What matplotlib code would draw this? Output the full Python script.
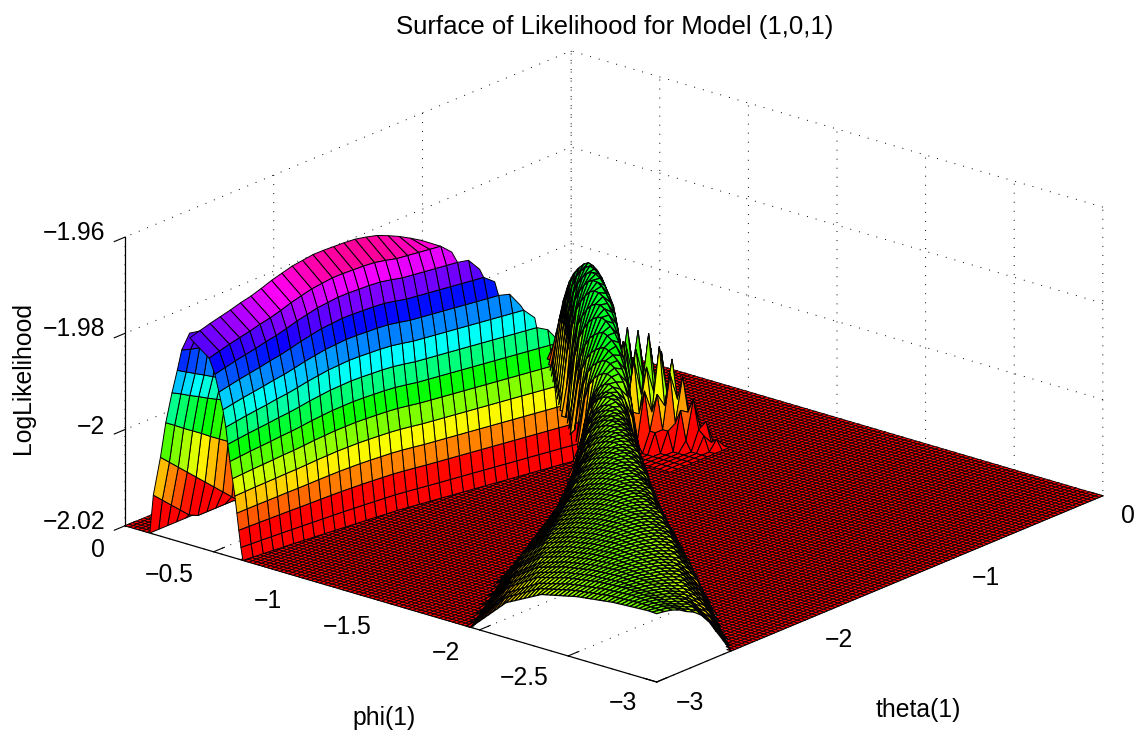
import numpy as np
import matplotlib
matplotlib.use("Agg")
import matplotlib.pyplot as plt
from mpl_toolkits.mplot3d.art3d import Poly3DCollection

plt.rcParams['font.family'] = ['Liberation Sans', 'DejaVu Sans']

# all heights are thousandths above the floor of the plot (-2.02)
z_floor = -2.02

phi_ticks = [0, -0.5, -1, -1.5, -2, -2.5, -3]
phi_labels = ['0', '\u22120.5', '\u22121', '\u22121.5', '\u22122', '\u22122.5', '\u22123']
theta_ticks = [-3, -2, -1, 0]
theta_labels = ['\u22123', '\u22122', '\u22121', '0']
z_ticks = [-2.02, -2, -1.98, -1.96]
z_labels = ['\u22122.02', '\u22122', '\u22121.98', '\u22121.96']

# big hump, near face: theta rows, foot of the slope, top of each row
hump_theta = [-3.0, -2.94, -2.88, -2.82, -2.76, -2.7, -2.64, -2.58, -2.52, -2.46, -2.4, -2.34, -2.28, -2.22, -2.16, -2.1, -2.04,
              -1.98, -1.92, -1.86, -1.8, -1.74, -1.68, -1.62, -1.56, -1.5, -1.44, -1.38, -1.32, -1.26, -1.2, -1.14, -1.08, -1.02]
hump_foot = [-.665, -.672, -.679, -.686, -.693, -.70, -.708, -.716, -.724, -.732, -.74, -.748, -.756, -.764, -.772, -.78, -.792,
             -.804, -.816, -.828, -.84, -.852, -.864, -.876, -.888, -.90, -.912, -.924, -.936, -.948, -.96, -.973, -.987, -1.0]
hump_crest = [43, 43.8, 44.6, 45.3, 46, 46.8, 47.5, 48.4, 49.4, 50.2, 51, 51.5, 52, 52.2, 52.3, 52.4, 52.5,
              52.3, 52, 51.3, 50.5, 49.5, 48.4, 46.5, 44.5, 42, 39, 36, 33, 30, 27, 24, 21, 18]
hump_bands = [43, 43.8, 44.6, 45.3, 46, 46.8, 47.5, 48.4, 49.4, 50.2, 51, 51.5, 52, 52.2, 52.3, 52.4, 52.5,
              52.3, 52, 52, 52, 52, 52, 52, 52, 52, 52, 52, 52, 52, 52, 52, 52, 52]
band_share = [0, .06, .14, .22, .30, .38, .46, .54, .62, .70, .78, .86, .93, 1]
band_lean = [0, .011, .023, .034, .045, .059, .073, .085, .096, .113, .135, .158, .19, .30]

# far side of the hump, seen from under it through the open end
far_phi = [-.14, -.16, -.20, -.23, -.265, -.295, -.32, -.365]
far_theta = [-3.0, -2.94, -2.88, -2.82, -2.76, -2.7, -2.64, -2.58, -2.52, -2.46, -2.4]
far_z = [[0, 8.1, 16.4, 23.9, 30.5, 35.5, 40, 44],
         [0, 6.3, 14.6, 22.6, 29.5, 34.4, 39.4, 43.6],
         [0, 4.5, 12.8, 21.2, 28.4, 33.3, 38.9, 43.2],
         [0, 2.7, 11, 19.9, 27.4, 32.2, 38.3, 42.8],
         [0, .9, 9.2, 18.6, 26.3, 31.1, 37.8, 42.4],
         [0, 0, 7.4, 17.2, 25.3, 30, 37.2, 42],
         [0, 0, 5.6, 15.9, 24.3, 28.9, 36.6, 41.6],
         [0, 0, 3.8, 14.6, 23.2, 27.8, 36, 41.2],
         [0, 0, 2, 13.2, 22.2, 26.7, 35.5, 40.8],
         [0, 0, .2, 11.9, 21.2, 25.6, 35, 40.4],
         [0, 0, 0, 10.6, 20.1, 24.5, 34.4, 40]]

# small spiky bump behind the ridge
bump_theta = [-.98, -.93, -.88, -.83, -.78, -.73, -.68, -.63, -.58]
bump_phi = [-.90, -.93, -.96, -.99, -1.02, -1.05, -1.08, -1.11, -1.14, -1.17, -1.20, -1.23, -1.26, -1.29, -1.32, -1.35, -1.38]
bump_z = [[14, 8, 10, 4, 3, 0, 0, 0, 0, 0, 0, 0, 0, 0, 0, 0, 0],
          [10, 18, 9, 14, 6, 7, 2, 0, 0, 0, 0, 0, 0, 0, 0, 0, 0],
          [22, 12, 20, 10, 15, 7, 8, 2, 0, 0, 0, 0, 0, 0, 0, 0, 0],
          [12, 22, 12, 21, 10, 18, 7, 12, 4, 4, 0, 0, 0, 0, 0, 0, 0],
          [20, 12, 20, 12, 19, 10, 16, 7, 11, 4, 4, 0, 0, 0, 0, 0, 0],
          [12, 22, 12, 22, 12, 22, 10, 20, 8, 15, 5, 8, 2, 0, 0, 0, 0],
          [18, 10, 18, 10, 18, 10, 18, 10, 17, 9, 14, 7, 10, 4, 3, 0, 0],
          [5, 9, 5, 9, 5, 9, 5, 9, 4, 8, 4, 7, 3, 5, 1, 2, 0],
          [0, 0, 0, 0, 0, 0, 0, 0, 0, 0, 0, 0, 0, 0, 0, 0, 0]]

# narrow ridge along phi = theta: for each theta row its two feet (in hundredths of phi) and its top
ridge_theta = [-3.0, -2.95, -2.9, -2.85, -2.8, -2.75, -2.7, -2.65, -2.6, -2.55, -2.5, -2.45, -2.4, -2.35, -2.3, -2.25, -2.2, -2.15, -2.1, -2.05,
               -2.0, -1.95, -1.9, -1.85, -1.8, -1.75, -1.7, -1.65, -1.6, -1.55, -1.5, -1.45, -1.4, -1.35, -1.3, -1.25, -1.2, -1.15, -1.1, -1.05,
               -1.0, -.95, -.9, -.85, -.8, -.75, -.7, -.65, -.6, -.55, -.5, -.45, -.4, -.35, -.3, -.25, -.2, -.15, -.1, -.05, 0.0]
ridge_hi = [195, 192, 190, 187, 185, 182, 180, 177, 175, 172, 169, 167, 165, 163, 161, 159, 157, 155, 153, 151,
            149, 147, 145, 142, 140, 137, 135, 132, 130, 127, 123, 120, 117, 113, 110, 106, 103, 100, 96, 93,
            90, 83, 77, 71, 66, 60, 55, 49, 44, 39, 34, 29, 24, 19, 15, 10, 6, 4, 2, 1, 0]
ridge_lo = [395, 381, 367, 353, 340, 332, 325, 317, 310, 305, 300, 294, 288, 282, 276, 271, 265, 259, 253, 246,
            240, 233, 227, 220, 213, 207, 201, 194, 188, 183, 177, 171, 166, 160, 154, 149, 143, 137, 131, 126,
            120, 116, 113, 109, 104, 99, 93, 88, 83, 78, 72, 67, 62, 57, 51, 45, 39, 32, 26, 20, 15]
ridge_top = [14.3, 14.3, 14.3, 14.3, 14.2, 14.2, 14.2, 14.2, 14.2, 14.2, 14.2, 14.2, 14.2, 14.2, 14.2, 14.2, 14.2, 14.2, 14.2, 14.2,
             14.2, 14.2, 14.2, 14.2, 14.2, 14.2, 14.2, 14.2, 14.2, 14.2, 14.2, 14.2, 14.2, 14.2, 14.2, 14, 14, 14, 14.5, 14.5,
             15, 16, 17.5, 19, 21, 23, 24.5, 26, 27, 27.5, 27.5, 27, 25.5, 23, 20, 16, 12, 8, 5, 2.5, 1]
# height across a ridge row, from the foot to the middle
ridge_across = [0, .51, .78, .90, .97, 1]
across_at = [0, .2, .4, .6, .8, 1]


def draw_mesh(ax, x, y, z, order, top=50.0, shift=5.0, lw=0.7, hue_max=0.999):
    # x, y, z are 2d, z in thousandths above the floor, nan means no cell
    quads, heights = [], []
    for r in range(z.shape[0] - 1):
        for c in range(z.shape[1] - 1):
            zz = [z[r, c], z[r, c + 1], z[r + 1, c + 1], z[r + 1, c]]
            if np.isnan(zz).any():
                continue
            xx = [x[r, c], x[r, c + 1], x[r + 1, c + 1], x[r + 1, c]]
            yy = [y[r, c], y[r, c + 1], y[r + 1, c + 1], y[r + 1, c]]
            quads.append([(xx[i], yy[i], z_floor + zz[i] / 1000) for i in range(4)])
            heights.append(np.mean(zz))
    colors = plt.cm.hsv(np.clip((np.array(heights) - shift) / top, 0, hue_max))
    poly = Poly3DCollection(quads, facecolors=colors, edgecolors='k', linewidths=lw, zorder=order)
    poly.set_clip_on(False)
    ax.add_collection3d(poly, autolim=False)


fig = plt.figure(figsize=(11.4, 7.36), dpi=100)
ax = fig.add_axes([0.207, -0.0114, 0.6456, 1.0], projection='3d', proj_type='ortho', computed_zorder=False)
ax.view_init(elev=20.5, azim=-50)
ax.set_box_aspect((1, 1, 0.444), zoom=1.357)
ax.set_xlim(0, -3, view_margin=0)
ax.set_ylim(-3, 0, view_margin=0)
ax.set_zlim(-2.02, -1.96, view_margin=0)

# floor, with holes under the hump and under the ridge
floor_phi = np.arange(0, -3.01, -0.025)
floor_theta = np.arange(-3, 0.01, 0.025)
fx, fy = np.meshgrid(floor_phi, floor_theta)
fz = np.zeros(fx.shape)
foot_at = np.interp(fy, hump_theta, hump_foot)
fz[(fx < -0.14) & (fx > foot_at + 0.04) & (fy < -1.0)] = np.nan
hi_at = -np.interp(fy, ridge_theta, ridge_hi) / 100
lo_at = -np.interp(fy, ridge_theta, ridge_lo) / 100
fz[(fx < hi_at - 0.03) & (fx > lo_at + 0.03)] = np.nan
draw_mesh(ax, fx, fy, fz, 1, lw=0.55)

bx, by = np.meshgrid(bump_phi, bump_theta)
draw_mesh(ax, bx, by, np.array(bump_z, dtype=float), 2, top=42.0, shift=4.0)

ux, uy = np.meshgrid(far_phi, far_theta)
draw_mesh(ax, ux, uy, np.array(far_z, dtype=float), 3)

share = np.array(band_share)
hx = np.array(hump_foot)[:, None] + np.array(band_lean)[None, :]
hy = np.repeat(np.array(hump_theta)[:, None], len(share), axis=1)
hz = np.minimum(np.array(hump_bands)[:, None] * share[None, :], np.array(hump_crest)[:, None])
# a band that has run past the top of its row stops there
for r in range(hz.shape[0]):
    capped = np.where(hz[r] >= hump_crest[r])[0]
    if len(capped) > 1:
        hz[r, capped[1]:] = np.nan
draw_mesh(ax, hx, hy, hz, 4)

# ridge rows on fixed phi columns
col_phi = np.arange(0, -3.01, -0.025)
rx, ry = np.meshgrid(col_phi, ridge_theta)
rz = np.full(rx.shape, np.nan)
for r, (hi, lo, top) in enumerate(zip(ridge_hi, ridge_lo, ridge_top)):
    s = (-col_phi * 100 - hi) / (lo - hi)
    from_foot = np.clip(2 * np.minimum(s, 1 - s), 0, 1)
    row = top * np.interp(from_foot, across_at, ridge_across)
    near = (-col_phi * 100 > hi - 3) & (-col_phi * 100 < lo + 3)
    rz[r, near] = row[near]
draw_mesh(ax, rx, ry, rz, 5, top=54.0, shift=0.0, lw=0.9, hue_max=0.37)

ax.set_xticks(phi_ticks)
ax.set_xticklabels([''] * len(phi_ticks))
ax.set_yticks(theta_ticks)
ax.set_yticklabels([''] * len(theta_ticks))
ax.set_zticks(z_ticks)
ax.set_zticklabels([''] * len(z_ticks))
ax.zaxis.set_ticks_position('lower')
for axis in (ax.xaxis, ax.yaxis, ax.zaxis):
    axis.pane.set_visible(False)
    axis.line.set_color('k')
    axis.line.set_linewidth(0.9)
    axis._axinfo['grid'].update(color='k', linewidth=0.7, linestyle=(0, (1, 8.3)))
    axis._axinfo['tick'].update(inward_factor=0, outward_factor=0.3)
    axis.set_tick_params(width=0.8)
ax.zaxis._axinfo['tick'].update(inward_factor=0.3, outward_factor=0)

label_size = 17.8


def px_text(x, y, s, size=label_size, **kw):
    fig.text(x / 1140, 1 - y / 736, s, va='center', fontsize=size, **kw)


for s, x, y in zip(phi_labels, [98, 169, 268, 347, 446, 524, 623], [550, 575, 601, 627, 653, 678, 703]):
    px_text(x, y, s, ha='center')
for s, x, y in zip(theta_labels, [690, 839, 986, 1128], [703, 640, 578, 516]):
    px_text(x, y, s, ha='center')
for s, y in zip(z_labels, [522, 427, 329, 233]):
    px_text(105, y, s, ha='right')

px_text(615, 27, 'Surface of Likelihood for Model (1,0,1)', size=18.5, ha='center')
px_text(384, 718, 'phi(1)', ha='center')
px_text(918, 710, 'theta(1)', ha='center')
px_text(23, 378, 'LogLikelihood', ha='center', rotation=90)

fig.savefig('out.png', dpi=100)
